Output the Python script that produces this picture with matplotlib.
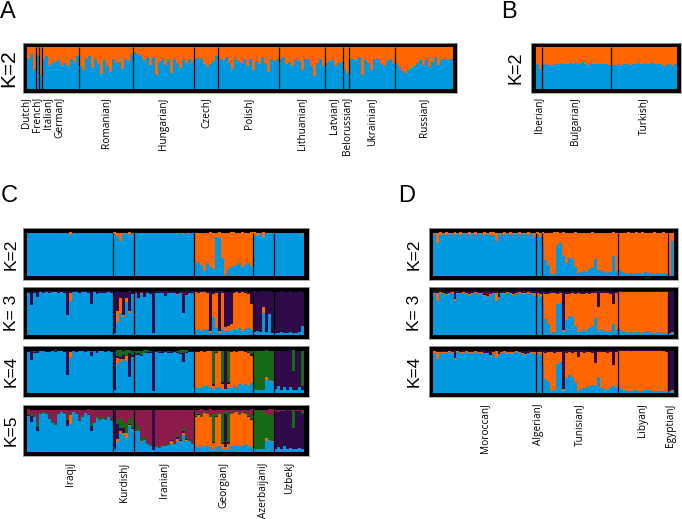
import matplotlib.pyplot as plt
import numpy as np

W, H = 682, 519          # figure size in px
BW = 4.5                 # thickness of the black frame, px

BLUE = "#0098df"
ORANGE = "#ff6600"
PURPLE = "#2e0a48"
GREEN = "#156a16"
MAROON = "#8d1b4c"

# ---------------- panel A (K=2), blue share per individual ----------------
A_groups = ["DutchJ", "FrenchJ", "ItalianJ", "GermanJ", "RomanianJ", "HungarianJ",
            "CzechJ", "PolishJ", "LithuanianJ", "LatvianJ", "BelorussianJ",
            "UkrainianJ", "RussianJ"]
A_blue = [
    [0.70, 0.82, 0.45],
    [0.78],
    [0.32],
    [0.69, 0.78, 0.57, 0.61, 0.65, 0.69, 0.57, 0.61, 0.54, 0.72, 0.65, 0.78],
    [0.55, 0.45, 0.70, 0.78, 0.50, 0.72, 0.60, 0.35, 0.68, 0.55,
     0.40, 0.72, 0.62, 0.63, 0.48, 0.70, 0.66, 0.80],
    [0.88, 0.84, 0.80, 0.68, 0.76, 0.57, 0.76, 0.33, 0.65, 0.72,
     0.57, 0.69, 0.37, 0.72, 0.61, 0.49, 0.69, 0.61, 0.72, 0.65],
    [0.72, 0.74, 0.70, 0.60, 0.52, 0.58, 0.66, 0.78],
    [0.72, 0.68, 0.75, 0.62, 0.48, 0.72, 0.66, 0.62, 0.70, 0.55,
     0.72, 0.45, 0.66, 0.58, 0.75, 0.62, 0.40, 0.70, 0.66, 0.72],
    [0.70, 0.75, 0.60, 0.65, 0.55, 0.70, 0.66, 0.45, 0.70, 0.72,
     0.55, 0.30, 0.62, 0.70, 0.55],
    [0.62, 0.66, 0.68, 0.55, 0.62, 0.65],
    [0.48, 0.38],
    [0.70, 0.72, 0.68, 0.75, 0.32, 0.68, 0.62, 0.45, 0.70, 0.72,
     0.60, 0.55, 0.66, 0.70, 0.58],
    [0.61, 0.53, 0.41, 0.37, 0.45, 0.49, 0.55, 0.61, 0.68, 0.57,
     0.72, 0.53, 0.65, 0.76, 0.57, 0.68, 0.72, 0.68, 0.70],
]
A_nudge = {"DutchJ": -2.0, "FrenchJ": -0.4, "ItalianJ": 2.2, "GermanJ": -0.6}

# ---------------- panel B (K=2) ----------------
B_groups = ["IberianJ", "BulgarianJ", "TurkishJ"]
B_blue = [
    [0.58, 0.48],
    [0.56, 0.58, 0.57, 0.56, 0.58, 0.59, 0.58, 0.60, 0.59, 0.61,
     0.58, 0.62, 0.58, 0.63, 0.60, 0.56, 0.62, 0.60, 0.59, 0.60,
     0.58, 0.60, 0.57],
    [0.57, 0.56, 0.58, 0.57, 0.59, 0.58, 0.57, 0.60, 0.59, 0.61,
     0.60, 0.60, 0.59, 0.61, 0.60, 0.58, 0.59, 0.54, 0.57, 0.59,
     0.55, 0.58],
]

# ---------------- panel C (K=2..5) ----------------
C_groups = ["IraqiJ", "KurdishJ", "IranianJ", "GeorgianJ", "AzerbaijaniJ", "UzbekJ"]

C_k2_orange = [
    [0, 0, 0, 0, 0, 0, 0, 0, 0, 0,
     0, 0, 0, 0, 0.05, 0, 0, 0, 0, 0,
     0, 0, 0, 0, 0, 0, 0, 0, 0.01],
    [0.05, 0.08, 0.20, 0.03, 0.02, 0.05, 0.00],
    [0, 0, 0.02, 0, 0, 0, 0, 0, 0, 0,
     0, 0, 0, 0, 0.03, 0, 0.04, 0, 0, 0],
    [0.68, 0.72, 0.75, 0.90, 0.70, 0.80, 0.85, 0.10, 0.12, 0.60,
     0.98, 0.85, 0.80, 0.78, 0.75, 0.70, 0.80, 0.76, 0.72, 0.78],
    [0.05, 0.08, 0.03, 0.12, 0.02, 0.03, 0.00],
    [0, 0, 0, 0, 0, 0, 0, 0, 0, 0.03],
]

C_k3_orange = [
    [0, 0, 0, 0, 0, 0, 0, 0, 0, 0,
     0, 0, 0, 0, 0.20, 0, 0, 0, 0, 0,
     0, 0, 0, 0, 0, 0, 0, 0, 0],
    [0.00, 0.25, 0.35, 0.05, 0.10, 0.05, 0.00],
    [0, 0, 0.02, 0, 0, 0, 0, 0, 0, 0,
     0, 0, 0, 0, 0.02, 0, 0, 0, 0, 0],
    [0.88, 0.85, 0.90, 0.88, 0.85, 0.05, 0.55, 0.82, 0.04, 0.85,
     0.10, 0.12, 0.15, 0.85, 0.88, 0.82, 0.90, 0.85, 0.80, 0.60],
    [0, 0, 0, 0.15, 0, 0, 0],
    [0, 0, 0, 0, 0, 0, 0, 0, 0, 0],
]
C_k3_purple = [
    [0.03, 0.32, 0.03, 0.12, 0.02, 0.03, 0.02, 0.03, 0.02, 0.02,
     0.03, 0.02, 0.03, 0.55, 0.03, 0.02, 0.02, 0.03, 0.02, 0.02,
     0.03, 0.30, 0.02, 0.05, 0.03, 0.04, 0.03, 0.02, 0.03],
    [0.97, 0.45, 0.15, 0.55, 0.15, 0.45, 0.05],
    [0.04, 0.15, 0.03, 0.12, 0.03, 0.05, 0.97, 0.03, 0.04, 0.03,
     0.10, 0.03, 0.04, 0.03, 0.05, 0.04, 0.50, 0.08, 0.03, 0.04],
    [0.02, 0.03, 0.02, 0.02, 0.03, 0.92, 0.05, 0.03, 0.92, 0.03,
     0.82, 0.80, 0.75, 0.03, 0.02, 0.03, 0.02, 0.03, 0.05, 0.30],
    [0.95, 0.93, 0.95, 0.35, 0.95, 0.52, 0.96],
    [0.97, 0.96, 0.95, 0.97, 0.96, 0.95, 0.97, 0.96, 0.95, 0.80],
]

C_k4_orange = [
    [0, 0, 0, 0, 0, 0, 0, 0, 0, 0,
     0, 0, 0, 0, 0.16, 0, 0, 0, 0, 0,
     0, 0, 0, 0, 0, 0, 0, 0, 0],
    [0.00, 0.15, 0.05, 0.00, 0.10, 0.00, 0.00],
    [0, 0, 0, 0, 0, 0, 0, 0, 0, 0,
     0, 0, 0, 0, 0.02, 0, 0, 0, 0, 0],
    [0.82, 0.85, 0.88, 0.80, 0.82, 0.85, 0.10, 0.82, 0.85, 0.15,
     0.03, 0.10, 0.85, 0.80, 0.82, 0.78, 0.80, 0.75, 0.78, 0.65],
    [0, 0, 0, 0, 0.08, 0, 0.03],
    [0, 0, 0, 0, 0, 0, 0, 0, 0, 0],
]
C_k4_purple = [
    [0.02, 0.23, 0.02, 0.05, 0.02, 0.02, 0.02, 0.03, 0.02, 0.02,
     0.02, 0.02, 0.02, 0.58, 0.03, 0.02, 0.02, 0.02, 0.02, 0.02,
     0.02, 0.10, 0.02, 0.03, 0.02, 0.02, 0.02, 0.02, 0.02],
    [0.95, 0.05, 0.05, 0.10, 0.02, 0.58, 0.05],
    [0.02, 0.05, 0.03, 0.02, 0.02, 0.03, 0.97, 0.02, 0.02, 0.03,
     0.02, 0.02, 0.03, 0.02, 0.02, 0.03, 0.22, 0.03, 0.02, 0.02],
    [0.02, 0.02, 0.02, 0.02, 0.02, 0.02, 0.05, 0.02, 0.02, 0.05,
     0.90, 0.05, 0.02, 0.02, 0.02, 0.02, 0.02, 0.02, 0.03, 0.05],
    [0, 0, 0, 0, 0, 0, 0],
    [0.92, 0.85, 0.95, 0.88, 0.95, 0.87, 0.45, 0.95, 0.88, 0.10],
]
C_k4_green = [
    [0.02, 0.00, 0.03, 0.02, 0.00, 0.00, 0.02, 0.00, 0.00, 0.01,
     0.00, 0.00, 0.02, 0.00, 0.00, 0.00, 0.02, 0.00, 0.00, 0.02,
     0.00, 0.03, 0.00, 0.02, 0.00, 0.00, 0.02, 0.00, 0.02],
    [0.00, 0.12, 0.15, 0.10, 0.12, 0.05, 0.10],
    [0.08, 0.06, 0.10, 0.05, 0.04, 0.03, 0.00, 0.02, 0.03, 0.02,
     0.02, 0.03, 0.02, 0.02, 0.03, 0.05, 0.05, 0.04, 0.02, 0.02],
    [0.02, 0.02, 0.00, 0.02, 0.00, 0.00, 0.80, 0.03, 0.00, 0.75,
     0.02, 0.75, 0.02, 0.00, 0.02, 0.00, 0.00, 0.02, 0.03, 0.08],
    [0.95, 0.95, 0.94, 0.95, 0.62, 0.70, 0.72],
    [0, 0, 0, 0, 0, 0, 0.48, 0, 0, 0.85],
]

C_k5_orange = [
    [0, 0, 0, 0, 0, 0, 0, 0, 0, 0,
     0, 0, 0, 0, 0.20, 0, 0, 0, 0, 0,
     0, 0, 0, 0, 0, 0, 0, 0, 0],
    [0.00, 0.08, 0.06, 0.05, 0.10, 0.02, 0.00],
    [0, 0, 0.02, 0, 0, 0, 0, 0, 0, 0,
     0, 0, 0.05, 0, 0.05, 0.02, 0.05, 0.02, 0, 0],
    [0.72, 0.75, 0.70, 0.78, 0.75, 0.70, 0.15, 0.72, 0.78, 0.10,
     0.05, 0.12, 0.78, 0.80, 0.80, 0.75, 0.78, 0.72, 0.70, 0.65],
    [0, 0, 0, 0, 0.06, 0, 0.03],
    [0, 0, 0, 0, 0, 0, 0, 0, 0, 0],
]
C_k5_purple = [
    [0.02, 0.15, 0.02, 0.08, 0, 0, 0, 0, 0.02, 0,
     0, 0, 0, 0.15, 0.02, 0, 0, 0, 0, 0,
     0, 0.10, 0, 0, 0, 0, 0, 0, 0],
    [0.95, 0.35, 0.05, 0.10, 0.02, 0.02, 0.03],
    [0, 0, 0, 0, 0, 0, 0.97, 0, 0, 0,
     0, 0, 0.03, 0, 0.05, 0.03, 0.05, 0.03, 0, 0],
    [0.02, 0.02, 0.02, 0, 0, 0.02, 0.02, 0.02, 0, 0.03,
     0.80, 0.05, 0, 0, 0, 0, 0, 0, 0.02, 0.03],
    [0, 0, 0, 0, 0, 0, 0],
    [0.90, 0.85, 0.92, 0.85, 0.93, 0.88, 0.50, 0.92, 0.88, 0.85],
]
C_k5_green = [
    [0.02, 0.05, 0.02, 0.12, 0.02, 0.03, 0, 0.02, 0.03, 0.02,
     0.01, 0, 0.02, 0.05, 0.02, 0.02, 0, 0.03, 0.02, 0,
     0.02, 0.05, 0.03, 0.05, 0.06, 0.04, 0.03, 0.02, 0.02],
    [0.00, 0.10, 0.25, 0.15, 0.20, 0.15, 0.18],
    [0.05, 0.10, 0.05, 0.08, 0.03, 0.02, 0, 0.02, 0.02, 0,
     0.02, 0.02, 0.03, 0.02, 0.05, 0.03, 0.05, 0.05, 0.02, 0.02],
    [0.05, 0.03, 0.05, 0.02, 0.03, 0.05, 0.70, 0.05, 0.02, 0.72,
     0.05, 0.70, 0.02, 0.02, 0.02, 0.02, 0.03, 0.02, 0.05, 0.10],
    [0.93, 0.93, 0.92, 0.90, 0.58, 0.60, 0.62],
    [0, 0, 0, 0, 0, 0, 0.40, 0, 0, 0.05],
]
C_k5_maroon = [
    [0.12, 0.10, 0.15, 0.30, 0.08, 0.05, 0.10, 0.20, 0.28, 0.35,
     0.10, 0.05, 0.08, 0.20, 0.10, 0.05, 0.10, 0.25, 0.15, 0.08,
     0.12, 0.35, 0.30, 0.15, 0.20, 0.18, 0.22, 0.15, 0.25],
    [0.00, 0.25, 0.20, 0.30, 0.35, 0.20, 0.25],
    [0.45, 0.40, 0.70, 0.65, 0.80, 0.85, 0.00, 0.88, 0.90, 0.88,
     0.85, 0.82, 0.70, 0.80, 0.60, 0.70, 0.45, 0.65, 0.72, 0.80],
    [0.10, 0.08, 0.12, 0.06, 0.08, 0.12, 0.08, 0.10, 0.08, 0.08,
     0.05, 0.08, 0.08, 0.06, 0.05, 0.10, 0.06, 0.08, 0.10, 0.12],
    [0.02, 0.02, 0.03, 0.05, 0.10, 0.12, 0.12],
    [0.04, 0.05, 0.03, 0.03, 0.02, 0.03, 0.03, 0.03, 0.04, 0.05],
]

# ---------------- panel D (K=2..4) ----------------
D_groups = ["MoroccanJ", "AlgerianJ", "TunisianJ", "LibyanJ", "EgyptianJ"]

D_k2_orange = [
    [0.04, 0.24, 0.05, 0.03, 0.05, 0.04, 0.03, 0.06, 0.04, 0.05,
     0.03, 0.04, 0.06, 0.03, 0.05, 0.04, 0.03, 0.05, 0.04, 0.06,
     0.05, 0.20, 0.04, 0.03, 0.05, 0.04, 0.06, 0.03, 0.04, 0.05,
     0.03, 0.04, 0.05, 0.03, 0.10],
    [0.05, 0.10],
    [0.30, 0.65, 0.75, 0.97, 0.96, 0.30, 0.25, 0.55, 0.70, 0.60,
     0.62, 0.80, 0.95, 0.93, 0.90, 0.92, 0.85, 0.80, 0.62, 0.88,
     0.90, 0.92, 0.95, 0.93, 0.55, 0.90],
    [0.88, 0.92, 0.95, 0.96, 0.95, 0.97, 0.94, 0.95, 0.96, 0.93,
     0.95, 0.97, 0.96, 0.95, 0.97, 0.96, 0.97],
    [0.98, 0.20],
]

D_k3_orange = [
    [0.02, 0.20, 0.03, 0.02, 0.02, 0.02, 0.02, 0.03, 0.02, 0.02,
     0.02, 0.02, 0.02, 0.02, 0.02, 0.02, 0.02, 0.02, 0.02, 0.02,
     0.02, 0.18, 0.02, 0.02, 0.02, 0.02, 0.02, 0.02, 0.02, 0.02,
     0.02, 0.02, 0.02, 0.02, 0.06],
    [0.03, 0.08],
    [0.28, 0.60, 0.70, 0.92, 0.92, 0.25, 0.22, 0.05, 0.62, 0.52,
     0.55, 0.75, 0.90, 0.88, 0.85, 0.87, 0.80, 0.76, 0.58, 0.55,
     0.85, 0.88, 0.90, 0.88, 0.45, 0.86],
    [0.87, 0.91, 0.94, 0.95, 0.94, 0.96, 0.93, 0.94, 0.95, 0.92,
     0.94, 0.96, 0.95, 0.94, 0.96, 0.95, 0.96],
    [0.00, 0.02],
]
D_k3_purple = [
    [0.03, 0.03, 0.02, 0.04, 0.05, 0.03, 0.02, 0.18, 0.03, 0.04,
     0.02, 0.03, 0.05, 0.03, 0.02, 0.04, 0.03, 0.08, 0.10, 0.05,
     0.04, 0.03, 0.12, 0.03, 0.04, 0.02, 0.03, 0.05, 0.03, 0.02,
     0.04, 0.03, 0.02, 0.03, 0.04],
    [0.04, 0.05],
    [0.03, 0.05, 0.05, 0.04, 0.03, 0.05, 0.04, 0.90, 0.05, 0.06,
     0.04, 0.05, 0.04, 0.05, 0.05, 0.04, 0.05, 0.04, 0.04, 0.35,
     0.04, 0.03, 0.04, 0.05, 0.30, 0.04],
    [0.01, 0.01, 0.01, 0.01, 0.01, 0.01, 0.01, 0.01, 0.01, 0.02,
     0.01, 0.01, 0.01, 0.01, 0.01, 0.01, 0.01],
    [0.97, 0.95],
]

D_k4_orange = [
    [0.03, 0.18, 0.03, 0.02, 0.02, 0.02, 0.02, 0.03, 0.02, 0.02,
     0.02, 0.02, 0.03, 0.02, 0.02, 0.02, 0.02, 0.02, 0.02, 0.02,
     0.02, 0.16, 0.02, 0.02, 0.02, 0.03, 0.02, 0.02, 0.02, 0.02,
     0.02, 0.02, 0.02, 0.02, 0.05],
    [0.03, 0.06],
    [0.30, 0.62, 0.72, 0.92, 0.90, 0.28, 0.25, 0.04, 0.60, 0.55,
     0.58, 0.72, 0.82, 0.88, 0.84, 0.86, 0.82, 0.78, 0.55, 0.60,
     0.86, 0.88, 0.90, 0.86, 0.50, 0.85],
    [0.88, 0.92, 0.94, 0.95, 0.94, 0.96, 0.93, 0.95, 0.95, 0.93,
     0.94, 0.96, 0.95, 0.95, 0.96, 0.95, 0.95],
    [0.00, 0.02],
]
D_k4_purple = [
    [0.02, 0.03, 0.03, 0.04, 0.03, 0.02, 0.03, 0.18, 0.02, 0.03,
     0.04, 0.02, 0.03, 0.03, 0.02, 0.03, 0.04, 0.05, 0.06, 0.10,
     0.03, 0.02, 0.08, 0.03, 0.02, 0.03, 0.04, 0.03, 0.02, 0.03,
     0.06, 0.08, 0.05, 0.04, 0.03],
    [0.03, 0.04],
    [0.04, 0.05, 0.03, 0.04, 0.05, 0.04, 0.03, 0.92, 0.05, 0.04,
     0.05, 0.04, 0.15, 0.04, 0.05, 0.04, 0.03, 0.05, 0.30, 0.04,
     0.04, 0.03, 0.05, 0.04, 0.35, 0.04],
    [0.01, 0.01, 0.01, 0.01, 0.02, 0.01, 0.01, 0.01, 0.01, 0.01,
     0.01, 0.01, 0.01, 0.01, 0.01, 0.02, 0.03],
    [0.96, 0.95],
]


def flat(groups):
    return np.array([v for g in groups for v in g], dtype=float)


def frame_axes(fig, x0, y0, x1, y1, n):
    # axes covers the outer black frame; data area is inset by BW px
    ax = fig.add_axes([x0 / W, 1 - y1 / H, (x1 - x0) / W, (y1 - y0) / H])
    px = n / ((x1 - x0) - 2 * BW)
    py = 1.0 / ((y1 - y0) - 2 * BW)
    ax.set_xlim(-BW * px, n + BW * px)
    ax.set_ylim(-BW * py, 1 + BW * py)
    ax.set_facecolor("black")
    ax.set_xticks([])
    ax.set_yticks([])
    for s in ax.spines.values():
        s.set_color("#a0a0a0")
        s.set_linewidth(0.6)
    return ax


def structure_row(ax, comps, colors, sizes):
    # blue is what is left after the other clusters; stacked bottom -> top
    others = [flat(c) for c in comps]
    blue = 1 - np.sum(others, axis=0)
    x = np.arange(len(blue)) + 0.5
    bottom = np.zeros(len(blue))
    for vals, col in zip([blue] + others, [BLUE] + colors):
        ax.bar(x, vals, width=1.0, bottom=bottom, color=col,
               linewidth=0, antialiased=False)
        bottom += vals
    for b in np.cumsum(sizes)[:-1]:
        ax.plot([b, b], [0, 1], color="black", lw=0.9, solid_capstyle="butt")


def group_labels(ax, names, sizes, nudge=None, pad=3):
    nudge = nudge or {}
    starts = np.concatenate([[0], np.cumsum(sizes)[:-1]])
    for name, s, n in zip(names, starts, sizes):
        ax.annotate(name, xy=(s + n / 2 + nudge.get(name, 0), 0),
                    xycoords=("data", "axes fraction"), xytext=(0, -pad),
                    textcoords="offset points", rotation=90, ha="center",
                    va="top", fontsize=7.3, family="Open Sans")


def k_label(x, y, txt, size):
    fig.text(x / W, 1 - y / H, txt, rotation=90, ha="center", va="center",
             fontsize=size, family="Liberation Sans")


def panel_letter(x, y, txt):
    fig.text(x / W, 1 - y / H, txt, ha="left", va="top", fontsize=17,
             family="Liberation Sans")


fig = plt.figure(figsize=(W / 100, H / 100), dpi=100)

# A
A_sizes = [len(g) for g in A_blue]
A_orange = [[1 - v for v in g] for g in A_blue]
ax = frame_axes(fig, 22.5, 42.5, 457, 93, sum(A_sizes))
structure_row(ax, [A_orange], [ORANGE], A_sizes)
group_labels(ax, A_groups, A_sizes, A_nudge)
k_label(9, 68, "K=2", 15)
panel_letter(0, 1, "A")

# B
B_sizes = [len(g) for g in B_blue]
B_orange = [[1 - v for v in g] for g in B_blue]
ax = frame_axes(fig, 531, 42.5, 681, 93, sum(B_sizes))
structure_row(ax, [B_orange], [ORANGE], B_sizes)
group_labels(ax, B_groups, B_sizes)
k_label(516, 68, "K=2", 13)
panel_letter(501, 1, "B")

# C
C_sizes = [len(g) for g in C_k2_orange]
C_rows = [
    ("K=2", [C_k2_orange], [ORANGE]),
    ("K= 3", [C_k3_orange, C_k3_purple], [ORANGE, PURPLE]),
    ("K=4", [C_k4_orange, C_k4_purple, C_k4_green], [ORANGE, PURPLE, GREEN]),
    ("K=5", [C_k5_orange, C_k5_purple, C_k5_green, C_k5_maroon],
     [ORANGE, PURPLE, GREEN, MAROON]),
]
row_y = [(228, 280), (287, 339), (346, 397), (405, 456)]
for (lab, comps, cols), (y0, y1) in zip(C_rows, row_y):
    ax = frame_axes(fig, 22.5, y0, 308.5, y1, sum(C_sizes))
    structure_row(ax, comps, cols, C_sizes)
    k_label(11.5, (y0 + y1) / 2, lab, 12.5)
group_labels(ax, C_groups, C_sizes, pad=4.5)
panel_letter(1, 185, "C")

# D
D_sizes = [len(g) for g in D_k2_orange]
D_rows = [
    ("K=2", [D_k2_orange], [ORANGE]),
    ("K= 3", [D_k3_orange, D_k3_purple], [ORANGE, PURPLE]),
    ("K=4", [D_k4_orange, D_k4_purple], [ORANGE, PURPLE]),
]
for (lab, comps, cols), (y0, y1) in zip(D_rows, row_y[:3]):
    ax = frame_axes(fig, 428.5, y0, 678, y1, sum(D_sizes))
    structure_row(ax, comps, cols, D_sizes)
    k_label(414.5, (y0 + y1) / 2, lab, 12.5)
group_labels(ax, D_groups, D_sizes, pad=4.5)
panel_letter(398, 185, "D")

fig.savefig("out.png", dpi=100)
